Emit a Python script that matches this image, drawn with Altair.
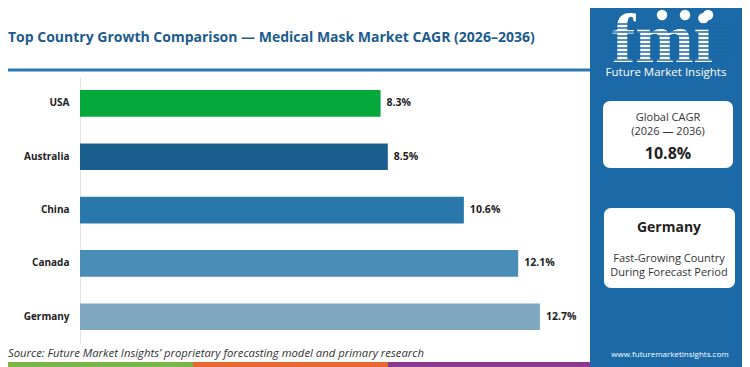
import altair as alt
import pandas as pd

# ---------------- data ----------------
countries = ["USA", "Australia", "China", "Canada", "Germany"]
cagr = [8.3, 8.5, 10.6, 12.1, 12.7]
value_labels = ["8.3%", "8.5%", "10.6%", "12.1%", "12.7%"]
bar_colors = ["#05a83b", "#1a5e8e", "#2a78ab", "#4a8db7", "#7fa7c0"]

title_text = "Top Country Growth Comparison \u2014 Medical Mask Market CAGR (2026\u20132036)"
source_text = "Source: Future Market Insights\u2019 proprietary forecasting model and primary research"
global_lines = ["Global CAGR", "(2026 \u2014 2036)"]
global_value = "10.8%"
leader = "Germany"
leader_lines = ["Fast-Growing Country", "During Forecast Period"]
brand = "Future Market Insights"
website = "www.futuremarketinsights.com"

df = pd.DataFrame({"Country": countries, "CAGR": cagr, "Label": value_labels})

# ---------------- layout helpers ----------------
PAGE = 8
OX, OY = 80, 76.7          # plot origin in page pixels
PLOT_W, PLOT_H = 507, 266.7
TOTAL_W, TOTAL_H = 750 - 2 * PAGE, 367 - PAGE

PANEL = "#1b6aa7"
FONT = "Open Sans"


def X(v):
    return v - OX


def Y(v):
    return v - OY


one = alt.Data(values=[{"k": 0}])


def rect(x1, x2, y1, y2, color, radius=0):
    return alt.Chart(one).mark_rect(color=color, cornerRadius=radius).encode(
        x=alt.value(X(x1)), x2=alt.value(X(x2)), y=alt.value(Y(y1)), y2=alt.value(Y(y2))
    )


def hrule(x1, x2, y, color, width):
    return alt.Chart(one).mark_rule(color=color, strokeWidth=width).encode(
        x=alt.value(X(x1)), x2=alt.value(X(x2)), y=alt.value(Y(y))
    )


def text(s, x, y, size, color, weight="normal", align="center", font=FONT, style="normal"):
    return alt.Chart(one).mark_text(
        text=s, align=align, baseline="alphabetic", fontSize=size, color=color,
        fontWeight=weight, font=font, fontStyle=style
    ).encode(x=alt.value(X(x)), y=alt.value(Y(y)))


def dot(x, y, size, color):
    return alt.Chart(one).mark_point(filled=True, shape="circle", size=size, color=color, opacity=1).encode(
        x=alt.value(X(x)), y=alt.value(Y(y))
    )


layers = []
# right blue panel
layers.append(rect(590, 760, -10, 370, PANEL))
# bottom colour strip
layers.append(rect(-10, 193, 362, 370, "#7ab648"))
layers.append(rect(193, 388, 362, 370, "#e8692d"))
layers.append(rect(388, 590, 362, 370, "#8a3a8e"))
# title + underline
layers.append(text(title_text, 8, 42, 14, "#1c5b8e", weight="bold", align="left"))
layers.append(hrule(-10, 590, 70, "#2a78b0", 3))

# logo
layers.append(text("fmi", 612, 62, 70, "white", weight="bold", align="left", font="Liberation Serif"))
for yy in range(24, 64, 4):
    layers.append(hrule(606, 734, yy, PANEL, 1.3))
layers.append(dot(662, 15, 110, "white"))
layers.append(dot(685, 15, 110, "white"))
layers.append(dot(708, 15, 110, "white"))
layers.append(text(brand, 666, 76, 11.5, "white", align="center"))

# box 1
layers.append(rect(603, 733, 101, 168, "white", 7))
layers.append(text(global_lines[0], 668, 121, 11, "#333333"))
layers.append(text(global_lines[1], 668, 135, 11, "#333333"))
layers.append(text(global_value, 668, 159, 16, "#222222", weight="bold"))

# box 2
layers.append(rect(604, 735, 208, 288, "white", 7))
layers.append(text(leader, 669, 232, 14, "#222222", weight="bold"))
layers.append(text(leader_lines[0], 669, 262, 11, "#333333"))
layers.append(text(leader_lines[1], 669, 276, 11, "#333333"))

# website and source
layers.append(text(website, 670, 357, 8, "white"))
layers.append(text(source_text, 8, 357, 11.3, "#333333", align="left", style="italic"))

# ---------------- bars ----------------
base = alt.Chart(df)
ysc = alt.Y(
    "Country:N", sort=countries,
    scale=alt.Scale(paddingInner=0.5, paddingOuter=0.25),
    axis=alt.Axis(title=None, ticks=False, domainColor="#e3e3e3", labelFont=FONT,
                  labelFontWeight="bold", labelFontSize=10, labelColor="#222222",
                  labelPadding=11),
)
xsc = alt.X("CAGR:Q", scale=alt.Scale(domain=[0, 14], nice=False, zero=True), axis=None)

bars = base.mark_bar().encode(
    y=ysc, x=xsc,
    color=alt.Color("Country:N", scale=alt.Scale(domain=countries, range=bar_colors), legend=None),
)
vals = base.mark_text(align="left", baseline="middle", dx=6, font=FONT, fontWeight="bold",
                      fontSize=10.5, color="#222222").encode(y=ysc, x=xsc, text="Label:N")

layers.extend([bars, vals])

chart = alt.layer(*layers).properties(
    width=PLOT_W, height=PLOT_H,
    autosize=alt.AutoSizeParams(type="none"),
    padding={"left": OX - PAGE, "top": OY - PAGE,
             "right": TOTAL_W - (OX - PAGE) - PLOT_W,
             "bottom": TOTAL_H - (OY - PAGE) - PLOT_H},
    background="white",
).configure_view(stroke=None)

chart.save("out.html", embed_options={"renderer": "svg", "actions": False})
